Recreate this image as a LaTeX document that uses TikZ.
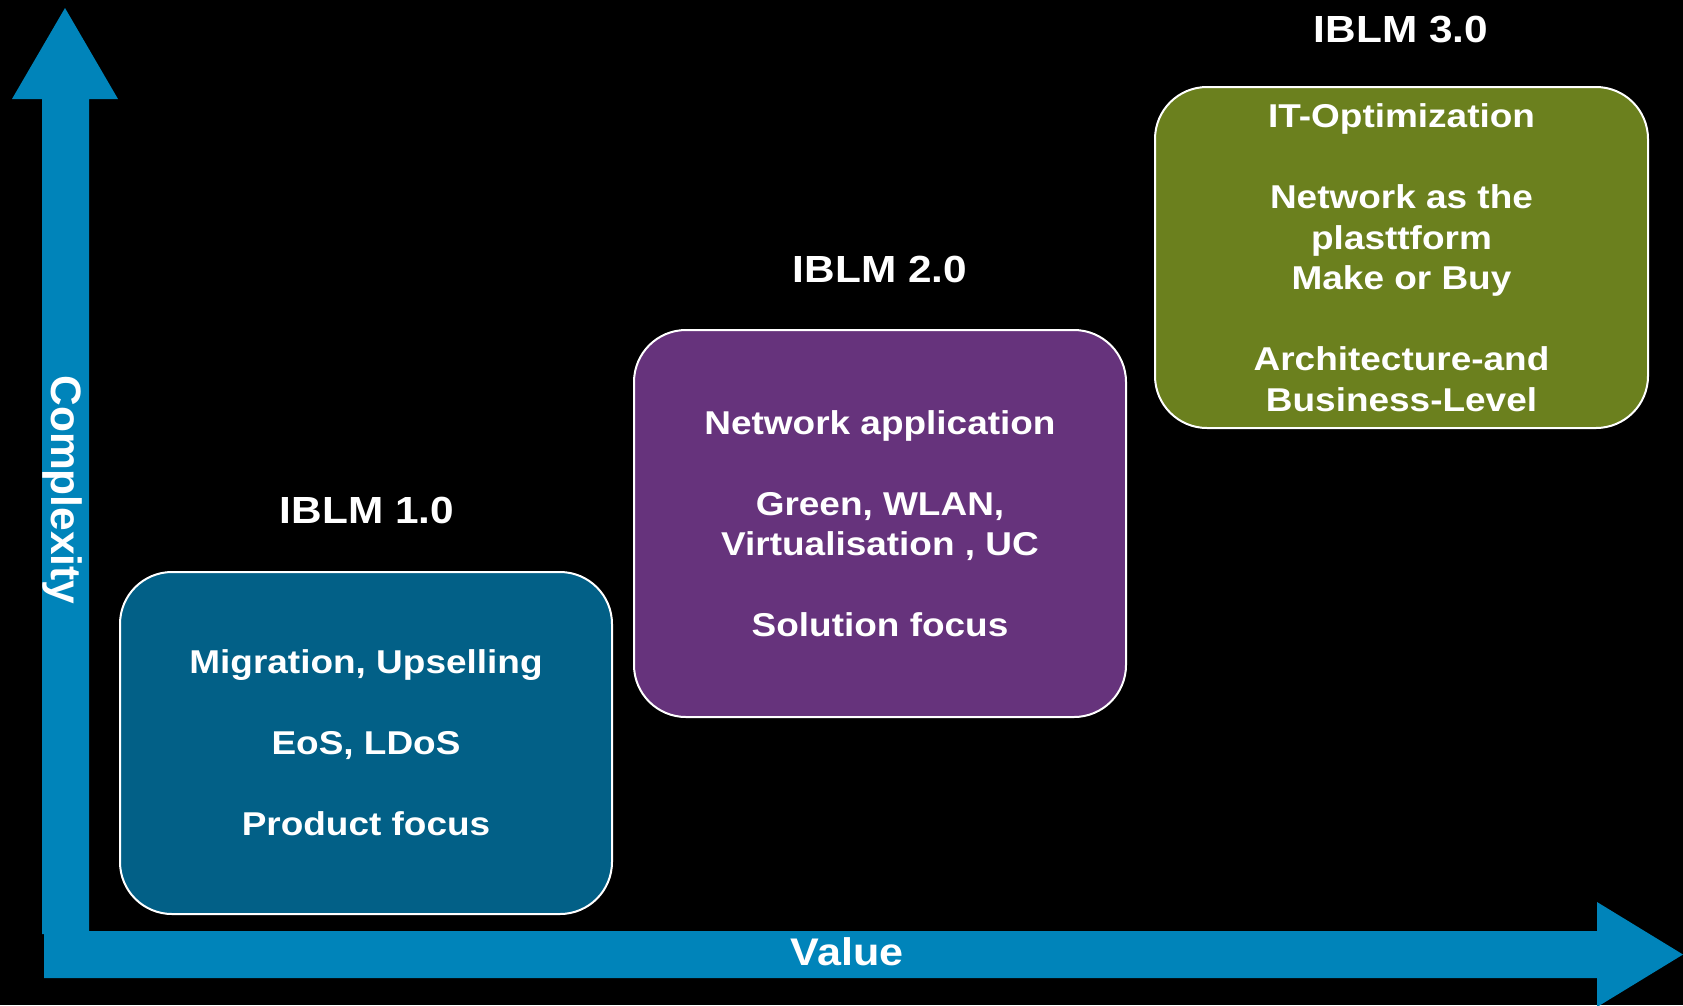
\documentclass[tikz,border=0pt]{standalone}
\usepackage{fontspec}
\setmainfont{Liberation Sans}[FakeStretch=1.12]
\newfontfamily\plainsans{Liberation Sans}
\definecolor{axisblue}{RGB}{0,132,186}
\definecolor{tealbox}{RGB}{2,96,135}
\definecolor{purplebox}{RGB}{102,51,124}
\definecolor{olivebox}{RGB}{107,128,30}
\tikzset{
  stagebox/.style={draw=white, line width=2pt, rounded corners=52pt, inner sep=0pt,
    text=white, align=center, font=\bfseries\fontsize{33}{40.5}\selectfont},
  stagetitle/.style={text=white, anchor=base, inner sep=0pt, font=\bfseries\fontsize{37.8}{44}\selectfont},
  axislabel/.style={text=white, anchor=base, inner sep=0pt}
}
\begin{document}
\begin{tikzpicture}[x=1pt,y=-1pt]
\fill[black] (0,0) rectangle (1683,1005);
\useasboundingbox (0,0) rectangle (1683,1005);
% axes
\fill[axisblue] (42,934) -- (42,99) -- (12,99) -- (65,8) -- (118,99) -- (89,99) -- (89,934) -- cycle;
\fill[axisblue] (44,931) -- (1597,931) -- (1597,902) -- (1683,954.5) -- (1597,1007) -- (1597,978) -- (44,978) -- cycle;
\node[axislabel, font=\bfseries\fontsize{38.5}{44}\selectfont] (value) at (847,965) {Value};
\node[axislabel, rotate=-90, font=\plainsans\bfseries\fontsize{42.5}{48}\selectfont] (complexity) at (51,490) {Complexity};
% boxes
\node[stagebox, fill=tealbox, minimum width=492pt, minimum height=342pt] (b1) at (366,743)
  {Migration, Upselling\\[40.5pt]EoS, LDoS\\[40.5pt]Product focus};
\node[stagebox, fill=purplebox, minimum width=492pt, minimum height=387pt] (b2) at (880,523.5)
  {Network application\\[40.5pt]Green, WLAN,\\Virtualisation , UC\\[40.5pt]Solution focus};
\node[stagebox, fill=olivebox, minimum width=493pt, minimum height=341pt] (b3) at (1401.5,257.5)
  {IT-Optimization\\[40.5pt]Network as the\\plasttform\\Make or Buy\\[40.5pt]Architecture-and\\Business-Level};
% titles
\node[stagetitle] (t1) at (367,523) {IBLM 1.0};
\node[stagetitle] (t2) at (880,282) {IBLM 2.0};
\node[stagetitle] (t3) at (1401,42) {IBLM 3.0};
\end{tikzpicture}
\end{document}
